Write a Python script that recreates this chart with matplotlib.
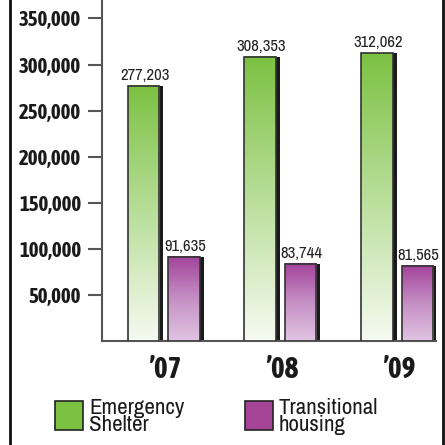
import numpy as np
import matplotlib
matplotlib.use("Agg")
import matplotlib.pyplot as plt
from matplotlib.patches import Rectangle
from matplotlib.lines import Line2D
from matplotlib.colors import LinearSegmentedColormap

years = ["\u201907", "\u201908", "\u201909"]
emergency = [277203, 308353, 312062]
transitional = [91635, 83744, 81565]
series_names = ["Emergency\nShelter", "Transitional\nhousing"]
yticks = [50000, 100000, 150000, 200000, 250000, 300000, 350000]

W, H = 445, 445
fig = plt.figure(figsize=(W / 100, H / 100), dpi=100)
ax = fig.add_axes([102 / W, (H - 341) / H, 334 / W, 341 / H])

FN = ["Archivo Narrow", "DejaVu Sans"]
FB = ["Asap Condensed", "DejaVu Sans"]

green_cmap = LinearSegmentedColormap.from_list("g", ["#f6faf1", "#b9de9a", "#7cc142"])
purple_cmap = LinearSegmentedColormap.from_list("p", ["#e0c4e2", "#c58fc4", "#a3439b"])
grad = np.linspace(0, 1, 256).reshape(-1, 1)

bw = 0.27
shadow = 0.035
offs = [-0.19, 0.156]

for i in range(len(years)):
    for vals, cmap, off in [(emergency, green_cmap, offs[0]), (transitional, purple_cmap, offs[1])]:
        v = vals[i]
        x0 = i + off - bw / 2
        x1 = x0 + bw
        ax.add_patch(Rectangle((x1, 0), shadow, v, facecolor="#1a1a1a", edgecolor="none", zorder=2))
        ax.imshow(grad, cmap=cmap, origin="lower", extent=[x0, x1, 0, v], aspect="auto", zorder=3)
        ax.add_patch(Rectangle((x0, 0), bw, v, facecolor="none", edgecolor="#333333", lw=1.2, zorder=4))
        ax.text(i + off + 0.01, v + 6500, f"{v:,}", ha="center", va="baseline",
                fontsize=12, family=FN, color="#222222", zorder=5)

ax.set_xlim(-0.546, 2.316)
ax.set_ylim(0, 370000)

ax.set_yticks(yticks)
ax.set_yticklabels([f"{t:,}" for t in yticks], fontsize=15, fontweight="bold", family=FB, color="#1a1a1a")
ax.tick_params(axis="y", length=10, width=1.5, color="#555555", pad=5)
ax.set_xticks(range(len(years)))
ax.set_xticklabels(years, fontsize=21, fontweight="bold", family=FB, color="#1a1a1a")
ax.tick_params(axis="x", length=0, pad=10)

for s in ["top", "right"]:
    ax.spines[s].set_visible(False)
ax.spines["left"].set_color("#555555")
ax.spines["left"].set_linewidth(1.5)
ax.spines["bottom"].set_color("#555555")
ax.spines["bottom"].set_linewidth(1.5)

# outer frame
fig.add_artist(Line2D([10 / W, 10 / W], [0, 1], color="#111111", lw=2, transform=fig.transFigure))
fig.add_artist(Line2D([443 / W, 443 / W], [0, 1], color="#111111", lw=2, transform=fig.transFigure))

# legend
colors = ["#7cc142", "#a64597"]
lx = [55, 245]
for x, c, name in zip(lx, colors, series_names):
    fig.add_artist(Rectangle((x / W, (H - 430) / H), 28 / W, 29 / H, facecolor=c,
                             edgecolor="#222222", lw=1.2, transform=fig.transFigure))
    fig.text((x + 34) / W, (H - 398) / H, name, ha="left", va="top", fontsize=16.5,
             family=FN, color="#1a1a1a", linespacing=0.8)

fig.savefig("out.png", dpi=100)
